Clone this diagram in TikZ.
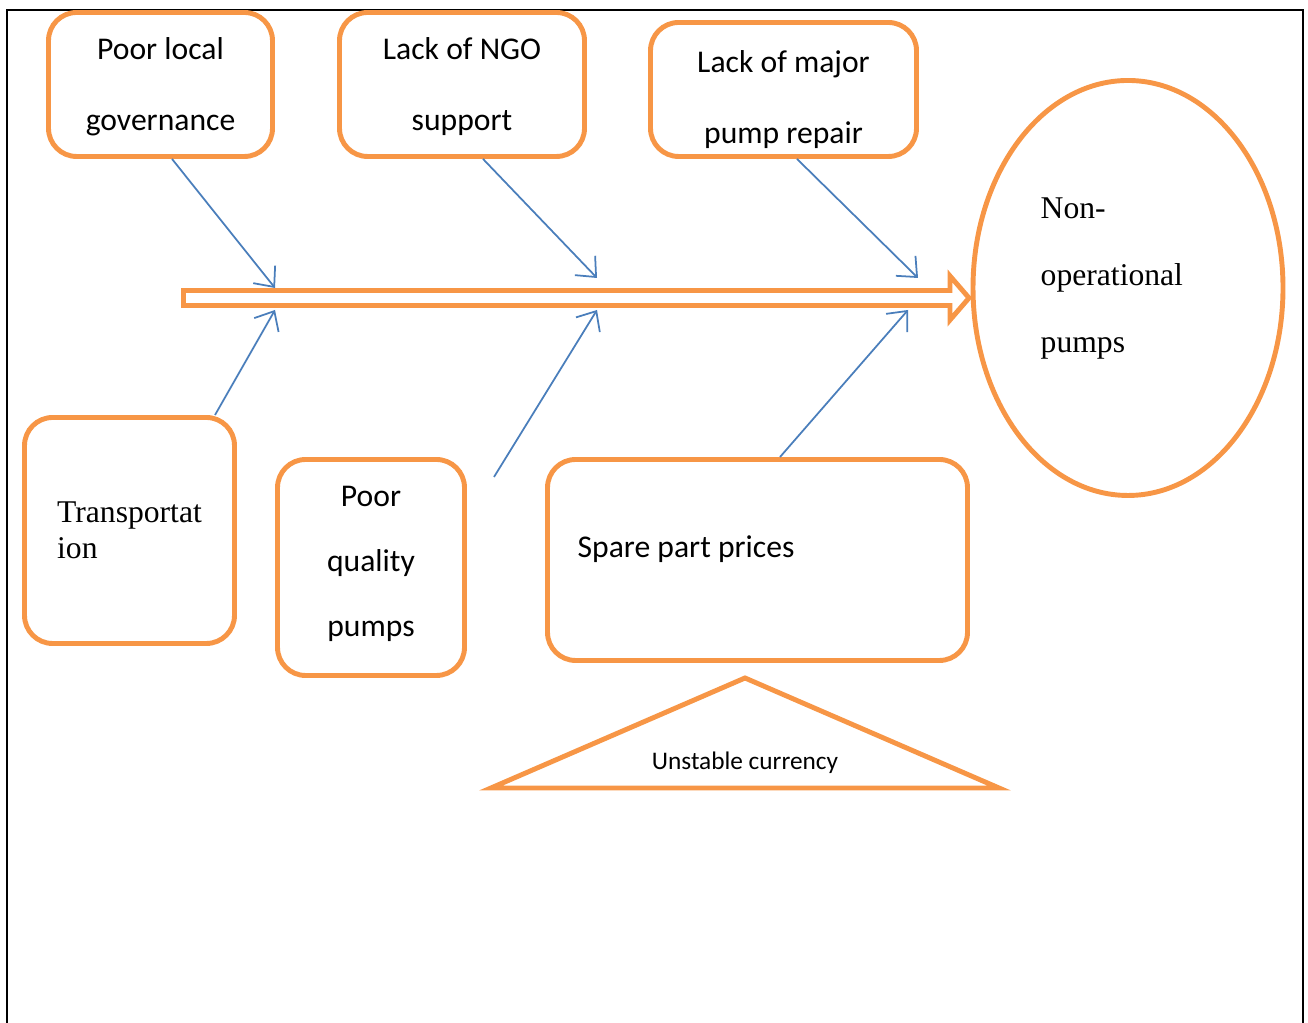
\documentclass[tikz,border=0pt]{standalone}
\usepackage{fontspec}
\setmainfont{Liberation Serif}
\newfontfamily\calibri{Carlito}
\usepackage{xcolor}
\definecolor{fborange}{RGB}{247,150,70}
\definecolor{fbblue}{RGB}{74,126,187}
\usetikzlibrary{arrows.meta, shapes.geometric}

\tikzset{
  cause/.style={draw=fborange, line width=1.4pt, rounded corners=8pt, fill=white, inner sep=0pt, align=center,
    font=\calibri\fontsize{9}{20.2}\selectfont},
  link/.style={draw=fbblue, line width=0.5pt, -{Straight Barb[length=1.6mm, width=2.8mm]}},
}

\begin{document}
\begin{tikzpicture}
      \useasboundingbox (0,0) rectangle (13.08,10.23);

      % Frame (open at the bottom)
      \draw[line width=0.6pt] (0.07,0) -- (0.07,10.13) -- (13.03,10.13) -- (13.03,0);

      % Top causes
      \node[cause, minimum width=2.24cm, minimum height=1.44cm, text depth=0pt] (lgov) at (1.605,9.385) {Poor local\\governance};
      \node[cause, minimum width=2.45cm, minimum height=1.44cm, text depth=0pt] (ngo) at (4.62,9.385) {Lack of NGO\\support};
      \node[cause, minimum width=2.66cm, minimum height=1.34cm, text depth=0pt] (repair) at (7.835,9.335) {\rule{0pt}{10.5pt}Lack of major\\pump repair};

      % Bottom causes
      \node[cause, minimum width=2.10cm, minimum height=2.26cm, align=left,
            font=\fontsize{9}{10.2}\selectfont] (transport) at (1.295,4.925) {Transportat\\ion};
      \node[cause, minimum width=1.87cm, minimum height=2.16cm, text depth=3.6pt,
            font=\calibri\fontsize{9}{18.5}\selectfont] (quality) at (3.71,4.555) {Poor\\quality\\pumps};
      \node[cause, minimum width=4.20cm, minimum height=2.01cm] (spare) at (7.575,4.63) {};
      \node[anchor=west, inner sep=0pt, font=\calibri\fontsize{9}{11}\selectfont] (sparetext) at (5.77,4.74) {Spare part prices};

      % Unstable currency
      \draw[draw=fborange, line width=1.4pt] (4.91,2.35) -- (7.45,3.45) -- (9.99,2.35) -- cycle;
      \node[inner sep=0pt, font=\calibri\fontsize{7.2}{9}\selectfont] (currency) at (7.45,2.60) {Unstable currency};

      % Effect
      \node[draw=fborange, line width=1.4pt, ellipse, minimum width=3.10cm, minimum height=4.15cm, inner sep=0pt] (effect) at (11.28,7.35) {};
      \node[anchor=west, align=left, inner sep=0pt, font=\fontsize{9}{19}\selectfont] (effecttext) at (10.40,7.445) {Non-\\operational\\pumps};

      % Spine
      \draw[draw=fborange, line width=1.4pt, fill=white]
        (1.835,7.325) -- (9.50,7.325) -- (9.50,7.47) -- (9.69,7.25) -- (9.50,7.03) -- (9.50,7.175) -- (1.835,7.175) -- cycle;
      \coordinate (t1) at (2.75,7.35);
      \coordinate (t2) at (5.97,7.45);
      \coordinate (t3) at (9.18,7.45);
      \coordinate (b1) at (2.75,7.13);
      \coordinate (b2) at (5.97,7.13);
      \coordinate (b3) at (9.08,7.13);
      \coordinate (qfree) at (4.94,5.46);

      % Links
      \draw[link] ([xshift=1.15mm]lgov.south) -- (t1);
      \draw[link] ([xshift=2.1mm]ngo.south) -- (t2);
      \draw[link] ([xshift=1.35mm]repair.south) -- (t3);
      \draw[link] ([xshift=8.55mm]transport.north) -- (b1);
      \draw[link] (qfree) -- (b2);
      \draw[link] ([xshift=2.25mm]spare.north) -- (b3);
\end{tikzpicture}
\end{document}
